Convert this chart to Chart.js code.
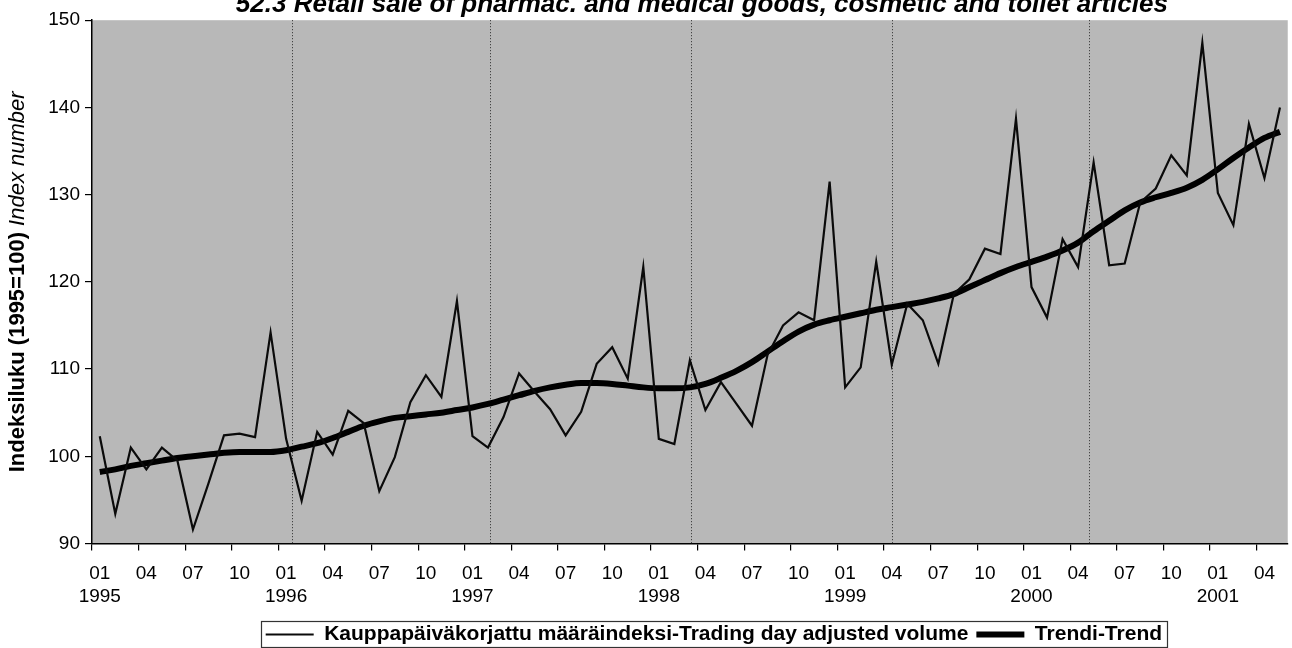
<!DOCTYPE html>
<html><head><meta charset="utf-8">
<script src="https://cdn.jsdelivr.net/npm/chart.js@4/dist/chart.umd.min.js"></script>
<style>
html,body{margin:0;padding:0;background:#fff;overflow:hidden;width:1292px;height:648px;}
#wrap{position:relative;width:1292px;height:648px;overflow:hidden;}
#c{position:absolute;left:0;top:-13px;}
</style></head><body>
<div id="wrap"><canvas id="c" width="1292" height="668"></canvas></div>
<script>
const categories = [
'1995-01','1995-02','1995-03','1995-04','1995-05','1995-06','1995-07','1995-08','1995-09','1995-10','1995-11','1995-12',
'1996-01','1996-02','1996-03','1996-04','1996-05','1996-06','1996-07','1996-08','1996-09','1996-10','1996-11','1996-12',
'1997-01','1997-02','1997-03','1997-04','1997-05','1997-06','1997-07','1997-08','1997-09','1997-10','1997-11','1997-12',
'1998-01','1998-02','1998-03','1998-04','1998-05','1998-06','1998-07','1998-08','1998-09','1998-10','1998-11','1998-12',
'1999-01','1999-02','1999-03','1999-04','1999-05','1999-06','1999-07','1999-08','1999-09','1999-10','1999-11','1999-12',
'2000-01','2000-02','2000-03','2000-04','2000-05','2000-06','2000-07','2000-08','2000-09','2000-10','2000-11','2000-12',
'2001-01','2001-02','2001-03','2001-04','2001-05'];

const tradingDayAdjusted = [
102.3, 93.4,101.0, 98.5,101.0, 99.5, 91.6, 96.9,102.4,102.6,102.2,114.2,
102.0, 94.9,102.8,100.2,105.2,103.8, 96.0, 99.9,106.2,109.3,106.8,117.8,
102.3,101.0,104.5,109.5,107.4,105.4,102.4,105.1,110.6,112.5,108.9,121.7,
102.0,101.4,111.0,105.3,108.5,106.0,103.5,111.6,115.0,116.5,115.6,131.5,
107.9,110.2,122.3,110.5,117.5,115.6,110.6,118.6,120.3,123.8,123.2,138.7,
119.4,115.9,124.9,121.7,133.7,121.9,122.1,129.1,130.7,134.5,132.2,147.4,
130.2,126.5,138.1,131.9,140.0];

const trend = [
 98.2, 98.5, 98.9, 99.2, 99.5, 99.8,100.0,100.2,100.4,100.5,100.5,100.5,
100.7,101.1,101.5,102.1,102.8,103.5,104.0,104.4,104.6,104.8,105.0,105.3,
105.6,106.0,106.5,107.0,107.5,107.9,108.2,108.4,108.4,108.3,108.1,107.9,
107.8,107.8,107.9,108.3,109.0,109.8,110.8,112.0,113.2,114.3,115.1,115.6,
116.0,116.4,116.8,117.1,117.4,117.7,118.1,118.6,119.4,120.2,121.0,121.7,
122.3,122.9,123.6,124.5,125.8,127.0,128.2,129.1,129.7,130.2,130.8,131.7,
132.9,134.2,135.4,136.5,137.2];

const tickMonthLabels = ['01','04','07','10','01','04','07','10','01','04','07','10','01','04','07','10','01','04','07','10','01','04','07','10','01','04'];
const tickYearLabels  = ['1995','','','','1996','','','','1997','','','','1998','','','','1999','','','','2000','','','','2001',''];

const seriesNames = ['Kauppapäiväkorjattu määräindeksi-Trading day adjusted volume','Trendi-Trend'];
const chartTitle = '52.3 Retail sale of pharmac. and medical goods, cosmetic and toilet articles';
const yTitleBold = 'Indeksiluku (1995=100) ';
const yTitleItalic = 'Index number';
// divider lines between year blocks, in category units
const dividerPositions = [12.4, 25.1, 38.1, 51.0, 63.7];

const FONT = "'Liberation Sans', Arial, Helvetica, sans-serif";
const TITLE_SHIFT = 12;   // px, title centre offset to the right
const LEGEND_SHIFT = 24;  // px, legend centre offset to the right

const plotBg = {
  id: 'plotBg',
  afterLayout(chart) {
    const lg = chart.legend;
    if (lg) { lg.left += LEGEND_SHIFT; lg.right += LEGEND_SHIFT; }
    const tb = chart.titleBlock;
    if (tb) { tb.left += TITLE_SHIFT; tb.right += TITLE_SHIFT; }
  },
  beforeDraw(chart) {
    const {ctx, chartArea: a} = chart;
    ctx.save();
    ctx.fillStyle = '#b8b8b8';
    ctx.fillRect(a.left, a.top, a.right - a.left, a.bottom - a.top);
    ctx.restore();
  },
  beforeDatasetsDraw(chart) {
    const {ctx, chartArea: a} = chart;
    const xs = chart.scales.x;
    ctx.save();
    ctx.strokeStyle = '#2a2a2a';
    ctx.lineWidth = 1;
    ctx.setLineDash([1, 2]);
    dividerPositions.forEach(v => {
      const px = Math.round(xs.getPixelForValue(v)) + 0.5;
      ctx.beginPath();
      ctx.moveTo(px, a.top);
      ctx.lineTo(px, a.bottom);
      ctx.stroke();
    });
    ctx.restore();
  },
  afterDraw(chart) {
    const {ctx, chartArea: a} = chart;
    // y-axis title with mixed styles
    ctx.save();
    ctx.fillStyle = '#000';
    ctx.textBaseline = 'middle';
    const fB = 'bold 22px ' + FONT;
    const fI = 'italic 22px ' + FONT;
    ctx.font = fB; const w1 = ctx.measureText(yTitleBold).width;
    ctx.font = fI; const w2 = ctx.measureText(yTitleItalic).width;
    ctx.translate(18, (a.top + a.bottom) / 2);
    ctx.rotate(-Math.PI / 2);
    const start = -(w1 + w2) / 2;
    ctx.textAlign = 'left';
    ctx.font = fB; ctx.fillText(yTitleBold, start, 0);
    ctx.font = fI; ctx.fillText(yTitleItalic, start + w1, 0);
    ctx.restore();
    // legend frame
    const lg = chart.legend;
    if (lg && lg.legendHitBoxes && lg.legendHitBoxes.length) {
      const hb = lg.legendHitBoxes;
      let l = Infinity, r = -Infinity, t = Infinity, b = -Infinity;
      hb.forEach(h => { l = Math.min(l, h.left); r = Math.max(r, h.left + h.width); t = Math.min(t, h.top); b = Math.max(b, h.top + h.height); });
      ctx.save();
      ctx.strokeStyle = '#333';
      ctx.lineWidth = 1.2;
      ctx.strokeRect(Math.round(l - 5) + 0.5, Math.round(t - 3) + 0.5, Math.round(r - l + 10), Math.round(b - t + 5));
      ctx.restore();
    }
  }
};

new Chart(document.getElementById('c'), {
  type: 'line',
  data: {
    labels: categories,
    datasets: [
      { label: seriesNames[0], data: tradingDayAdjusted, borderColor: '#0a0a0a', borderWidth: 2.2,
        pointRadius: 0, pointStyle: 'line', tension: 0 },
      { label: seriesNames[1], data: trend, borderColor: '#000', borderWidth: 6,
        pointRadius: 0, pointStyle: 'line', tension: 0.4, cubicInterpolationMode: 'monotone' }
    ]
  },
  options: {
    responsive: false,
    animation: false,
    devicePixelRatio: 1,
    layout: { padding: { left: 48, right: 3, top: 0, bottom: 0 } },
    plugins: {
      title: {
        display: true, text: chartTitle, fullSize: false, color: '#000',
        font: { family: FONT, size: 26, weight: 'bold', style: 'italic' },
        padding: { top: 2, bottom: 0 }
      },
      legend: {
        display: true, position: 'bottom', fullSize: false,
        labels: {
          color: '#000', usePointStyle: true, pointStyleWidth: 48, boxHeight: 21,
          font: { family: FONT, size: 21, weight: 'bold' }, padding: 8
        }
      },
      tooltip: { enabled: false }
    },
    scales: {
      x: {
        type: 'category', offset: true,
        grid: { drawOnChartArea: false, offset: true, tickLength: 7,
                tickColor: ctx => (ctx.index % 3 === 0 ? '#000' : 'rgba(0,0,0,0)'), lineWidth: 1.2 },
        border: { display: true, color: '#000', width: 1.5 },
        ticks: {
          autoSkip: false, maxRotation: 0, minRotation: 0, color: '#000', padding: 12,
          font: { family: FONT, size: 19 },
          callback: (val, i) => (i % 3 === 0 ? [tickMonthLabels[i / 3], tickYearLabels[i / 3]] : '')
        },
        afterFit: s => { s.height = 72.5; }
      },
      y: {
        min: 90, max: 150,
        grid: { drawOnChartArea: false, tickLength: 7, tickColor: '#000', lineWidth: 1.2 },
        border: { display: true, color: '#000', width: 1.5 },
        ticks: { stepSize: 10, color: '#000', padding: 5, font: { family: FONT, size: 19 } },
        afterFit: s => { s.width = 44; }
      }
    }
  },
  plugins: [plotBg]
});
</script>
</body></html>
